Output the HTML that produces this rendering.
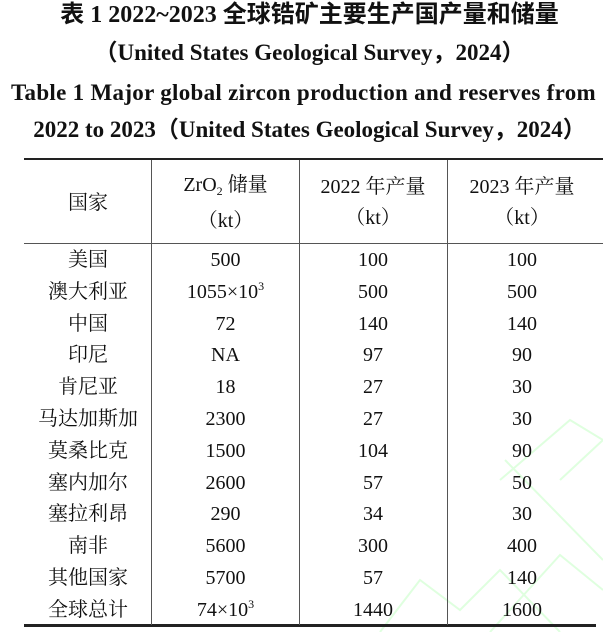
<!DOCTYPE html>
<html><head><meta charset="utf-8"><style>
body{margin:0;width:603px;height:632px;background:#fff;position:relative;overflow:hidden;font-family:"Liberation Serif","Noto Serif CJK SC",serif;color:#111}
.t{position:absolute;left:8px;width:603px;text-align:center;font-weight:bold;font-size:23px;white-space:nowrap;line-height:24px;font-family:"Liberation Serif","Noto Sans CJK SC",serif}
.c{position:absolute;text-align:center;font-size:20px;line-height:20px;white-space:nowrap}
.c sup,.c sub{font-size:12px;line-height:0;position:relative;vertical-align:baseline}
.c sup{top:-8px}.c sub{top:4px}
.h{position:absolute;background:#222}
.v{position:absolute;width:1px;background:#555}
</style></head><body>
<svg style="position:absolute;left:0;top:0" width="603" height="632"><g fill="none" stroke="#dfffdf" stroke-width="2">
<polyline points="380,632 420,580 460,610 500,570 560,632"/>
<polyline points="490,632 560,555 603,590"/>
<polyline points="500,480 570,420 603,440"/>
<polyline points="560,480 603,440"/>
<polyline points="505,460 603,560"/>
</g></svg>
<div class="t" style="top:3px;font-size:24px">表 1 2022~2023 全球锆矿主要生产国产量和储量</div>
<div class="t" style="top:41px">（United States Geological Survey，2024）</div>
<div class="t" style="top:81px;left:11px;width:auto;letter-spacing:0.3px;text-align:left">Table 1 Major global zircon production and reserves from</div>
<div class="t" style="top:118px">2022 to 2023（United States Geological Survey，2024）</div>
<div class="h" style="left:24px;width:579px;top:158px;height:2px"></div>
<div class="h" style="left:24px;width:579px;top:243px;height:1px;background:#555"></div>
<div class="h" style="left:24px;width:572px;top:624px;height:3px"></div>
<div class="v" style="left:151px;top:160px;height:465px"></div>
<div class="v" style="left:299px;top:160px;height:465px"></div>
<div class="v" style="left:447px;top:160px;height:465px"></div>
<div class="c" style="left:24px;width:128px;top:193px">国家</div>
<div class="c" style="left:152px;width:147px;top:175px">ZrO<sub>2</sub> 储量</div>
<div class="c" style="left:152px;width:147px;top:211px">（kt）</div>
<div class="c" style="left:299px;width:148px;top:177px">2022 年产量</div>
<div class="c" style="left:299px;width:148px;top:208px">（kt）</div>
<div class="c" style="left:447px;width:150px;top:177px">2023 年产量</div>
<div class="c" style="left:447px;width:150px;top:208px">（kt）</div>
<div id="rows"></div>
<script>
var d=[["美国","500","100","100"],["澳大利亚","1055×10<sup>3</sup>","500","500"],["中国","72","140","140"],["印尼","NA","97","90"],["肯尼亚","18","27","30"],["马达加斯加","2300","27","30"],["莫桑比克","1500","104","90"],["塞内加尔","2600","57","50"],["塞拉利昂","290","34","30"],["南非","5600","300","400"],["其他国家","5700","57","140"],["全球总计","74×10<sup>3</sup>","1440","1600"]];
var L=[24,152,299,447],W=[128,147,148,150],h="";
d.forEach(function(r,i){var y=250+i*31.8;r.forEach(function(s,j){h+='<div class="c" style="left:'+L[j]+'px;width:'+W[j]+'px;top:'+y+'px">'+s+'</div>'})});
document.getElementById("rows").innerHTML=h;
</script>
</body></html>
